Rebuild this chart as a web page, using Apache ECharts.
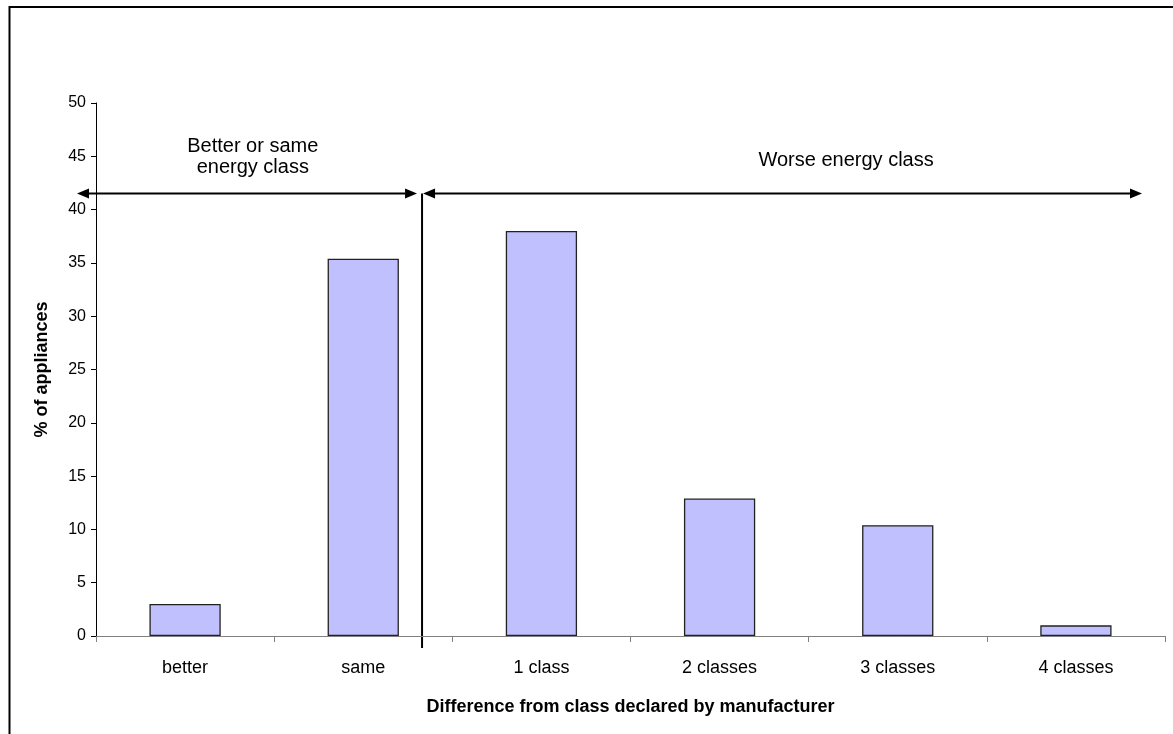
<!DOCTYPE html>
<html>
<head>
<meta charset="utf-8">
<script src="https://cdn.jsdelivr.net/npm/echarts@6/dist/echarts.min.js"></script>
<style>
html,body{margin:0;padding:0;background:#fff;}
#chart{width:1173px;height:734px;}
</style>
</head>
<body>
<div id="chart"></div>
<script>
var categories = ['better', 'same', '1 class', '2 classes', '3 classes', '4 classes'];
var percentOfAppliances = [3.0, 35.4, 38.0, 12.9, 10.4, 1.0];
var yTicks = [0, 5, 10, 15, 20, 25, 30, 35, 40, 45, 50];
var arrowLevel = 41.5;
var leftGroupLabel = 'Better or same\nenergy class';
var rightGroupLabel = 'Worse energy class';
var xAxisTitle = 'Difference from class declared by manufacturer';
var yAxisTitle = '% of appliances';

var FONT = '"Liberation Sans", Arial, sans-serif';
var chart = echarts.init(document.getElementById('chart'), null, {renderer: 'canvas'});

var GRID = {left: 96, right: 8, top: 103, bottom: 98};

var option = {
  animation: false,
  backgroundColor: '#ffffff',
  grid: GRID,
  xAxis: {
    type: 'category',
    data: categories,
    boundaryGap: true,
    name: xAxisTitle,
    nameLocation: 'middle',
    nameGap: 62,
    nameTextStyle: {fontFamily: FONT, fontSize: 18, fontWeight: 'bold', color: '#000'},
    axisLine: {lineStyle: {color: '#808080', width: 1}},
    axisTick: {show: true, length: 6, lineStyle: {color: '#808080'}},
    axisLabel: {fontFamily: FONT, fontSize: 18, color: '#000', margin: 23},
    splitLine: {show: false}
  },
  yAxis: {
    type: 'value',
    min: yTicks[0],
    max: yTicks[yTicks.length - 1],
    interval: yTicks[1] - yTicks[0],
    name: yAxisTitle,
    nameLocation: 'middle',
    nameGap: 45,
    nameTextStyle: {fontFamily: FONT, fontSize: 18, fontWeight: 'bold', color: '#000'},
    axisLine: {show: true, lineStyle: {color: '#000', width: 1}},
    axisTick: {show: true, length: 5, lineStyle: {color: '#000'}},
    axisLabel: {fontFamily: FONT, fontSize: 16, color: '#000', margin: 10},
    splitLine: {show: false}
  },
  series: [{
    type: 'bar',
    data: percentOfAppliances,
    barWidth: '40%',
    itemStyle: {color: '#c0c0ff', borderColor: '#222', borderWidth: 1.3}
  }]
};
chart.setOption(option);

function drawAnnotations() {
  var yArrow = chart.convertToPixel({yAxisIndex: 0}, arrowLevel);
  var y0 = chart.convertToPixel({yAxisIndex: 0}, 0);
  var plotLeft = GRID.left;
  var plotRight = 1173 - GRID.right;
  var catW = (plotRight - plotLeft) / categories.length;
  var divX = plotLeft + catW * 1.83;
  var leftTip = plotLeft - 19;
  var rightTip = plotRight - 23;
  var ah = 12, aw = 5;
  var leftCenter = plotLeft + catW * 0.88;
  var rightCenter = plotLeft + catW * 4.21;
  var graphics = [
    {type: 'rect', shape: {x: 9.5, y: 7, width: 1200, height: 800}, style: {fill: null, stroke: '#000', lineWidth: 2}, silent: true},
    {type: 'line', shape: {x1: divX, y1: yArrow, x2: divX, y2: y0 + 12}, style: {stroke: '#000', lineWidth: 2}},
    {type: 'line', shape: {x1: leftTip + ah, y1: yArrow, x2: divX - 5 - ah, y2: yArrow}, style: {stroke: '#000', lineWidth: 2}},
    {type: 'polygon', shape: {points: [[leftTip, yArrow], [leftTip + ah, yArrow - aw], [leftTip + ah, yArrow + aw]]}, style: {fill: '#000'}},
    {type: 'polygon', shape: {points: [[divX - 5, yArrow], [divX - 5 - ah, yArrow - aw], [divX - 5 - ah, yArrow + aw]]}, style: {fill: '#000'}},
    {type: 'line', shape: {x1: divX + 1 + ah, y1: yArrow, x2: rightTip - ah, y2: yArrow}, style: {stroke: '#000', lineWidth: 2}},
    {type: 'polygon', shape: {points: [[divX + 1, yArrow], [divX + 1 + ah, yArrow - aw], [divX + 1 + ah, yArrow + aw]]}, style: {fill: '#000'}},
    {type: 'polygon', shape: {points: [[rightTip, yArrow], [rightTip - ah, yArrow - aw], [rightTip - ah, yArrow + aw]]}, style: {fill: '#000'}},
    {type: 'text', x: leftCenter, y: yArrow - 37, style: {text: leftGroupLabel, fontFamily: FONT, fontSize: 20, fill: '#000', align: 'center', verticalAlign: 'middle', lineHeight: 21}},
    {type: 'text', x: rightCenter, y: yArrow - 33, style: {text: rightGroupLabel, fontFamily: FONT, fontSize: 20, fill: '#000', align: 'center', verticalAlign: 'middle'}}
  ];
  chart.setOption({graphic: graphics});
}
drawAnnotations();
</script>
</body>
</html>
